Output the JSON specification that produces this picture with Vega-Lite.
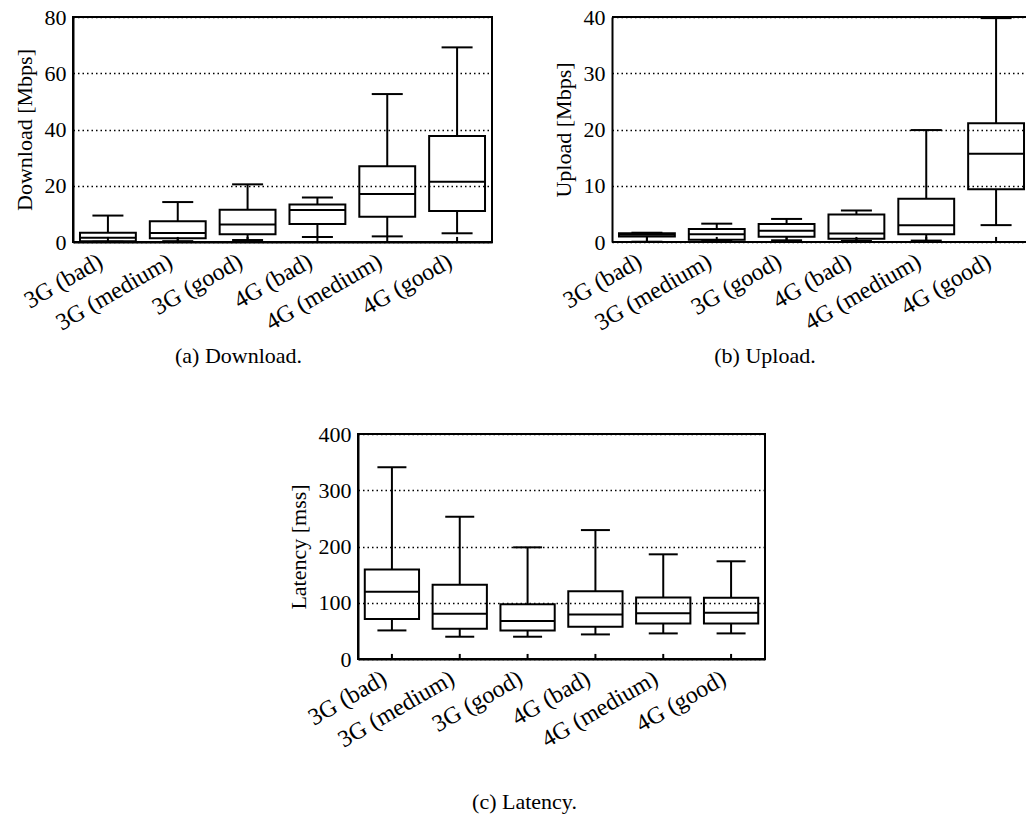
{
  "$schema": "https://vega.github.io/schema/vega-lite/v6.json",
  "background": "white",
  "padding": {"left": 12, "top": 5, "right": 0, "bottom": 0},
  "datasets": {
    "dl": [
      {"cat": "3G (bad)", "min": 0.1, "q1": 0.3, "median": 1.5, "q3": 3.3, "max": 9.4},
      {"cat": "3G (medium)", "min": 0.3, "q1": 1.3, "median": 3.2, "q3": 7.4, "max": 14.2},
      {"cat": "3G (good)", "min": 0.7, "q1": 2.8, "median": 6.2, "q3": 11.5, "max": 20.5},
      {"cat": "4G (bad)", "min": 1.8, "q1": 6.4, "median": 11.4, "q3": 13.3, "max": 15.8},
      {"cat": "4G (medium)", "min": 2.0, "q1": 9.0, "median": 17.1, "q3": 26.9, "max": 52.6},
      {"cat": "4G (good)", "min": 3.1, "q1": 11.0, "median": 21.4, "q3": 37.7, "max": 69.2}
    ],
    "ul": [
      {"cat": "3G (bad)", "min": 0.05, "q1": 1.0, "median": 1.3, "q3": 1.55, "max": 1.65},
      {"cat": "3G (medium)", "min": 0.2, "q1": 0.4, "median": 1.4, "q3": 2.3, "max": 3.26},
      {"cat": "3G (good)", "min": 0.3, "q1": 0.95, "median": 2.0, "q3": 3.2, "max": 4.1},
      {"cat": "4G (bad)", "min": 0.2, "q1": 0.6, "median": 1.5, "q3": 4.9, "max": 5.6},
      {"cat": "4G (medium)", "min": 0.25, "q1": 1.4, "median": 3.0, "q3": 7.7, "max": 19.9},
      {"cat": "4G (good)", "min": 3.0, "q1": 9.4, "median": 15.7, "q3": 21.1, "max": 39.8}
    ],
    "lat": [
      {"cat": "3G (bad)", "min": 50.8, "q1": 70.9, "median": 119.4, "q3": 158.9, "max": 340.9},
      {"cat": "3G (medium)", "min": 39.6, "q1": 53.8, "median": 80.4, "q3": 131.8, "max": 252.9},
      {"cat": "3G (good)", "min": 39.6, "q1": 50.8, "median": 67.4, "q3": 97.5, "max": 198.5},
      {"cat": "4G (bad)", "min": 43.7, "q1": 57.3, "median": 79.2, "q3": 120.5, "max": 229.2},
      {"cat": "4G (medium)", "min": 45.5, "q1": 63.2, "median": 81.5, "q3": 109.3, "max": 186.1},
      {"cat": "4G (good)", "min": 45.5, "q1": 63.2, "median": 82.1, "q3": 108.7, "max": 173.7}
    ]
  },
  "config": {
    "font": "Liberation Serif",
    "view": {"stroke": "black", "strokeWidth": 2},
    "axis": {
      "labelFontSize": 22, "titleFontSize": 22, "titleFontWeight": "normal",
      "labelColor": "black", "titleColor": "black",
      "domainColor": "black", "domainWidth": 2,
      "tickColor": "black", "tickWidth": 2,
      "gridColor": "black", "gridDash": [1.5, 3], "gridWidth": 1.5, "gridOpacity": 1
    },
    "axisX": {"grid": false, "labelAngle": -30, "ticks": false, "labelFontSize": 24, "labelPadding": 7, "labelOffset": -13, "title": null},
    "axisY": {"ticks": false, "labelPadding": 7, "titlePadding": 8, "grid": true},
    "title": {"orient": "bottom", "fontSize": 22, "fontWeight": "normal", "color": "black", "offset": 11, "anchor": "middle"},
    "tick": {"color": "black", "opacity": 1},
    "rule": {"color": "black"}
  },
  "spacing": 54,
  "vconcat": [
    {
      "spacing": 59,
      "hconcat": [
        {
          "width": 419, "height": 225,
          "data": {"name": "dl"},
          "title": {"text": "(a) Download.", "dx": -44},
          "encoding": {"x": {"field": "cat", "type": "nominal", "sort": null, "title": null, "scale": {"paddingInner": 0, "paddingOuter": 0}}},
          "layer": [
            {"mark": {"type": "rule", "strokeWidth": 2}, "encoding": {"y": {"field": "min", "type": "quantitative", "scale": {"domain": [0, 80], "nice": false}, "axis": {"values": [0, 20, 40, 60, 80], "title": "Download [Mbps]"}}, "y2": {"field": "q1"}}},
            {"mark": {"type": "rule", "strokeWidth": 2}, "encoding": {"y": {"field": "q3", "type": "quantitative"}, "y2": {"field": "max"}}},
            {"mark": {"type": "bar", "filled": false, "color": "black", "strokeWidth": 2, "width": {"band": 0.8}}, "encoding": {"y": {"field": "q1", "type": "quantitative"}, "y2": {"field": "q3"}}},
            {"mark": {"type": "tick", "size": 56, "thickness": 2}, "encoding": {"y": {"field": "median", "type": "quantitative"}}},
            {"mark": {"type": "tick", "size": 31, "thickness": 2}, "encoding": {"y": {"field": "min", "type": "quantitative"}}},
            {"mark": {"type": "tick", "size": 31, "thickness": 2}, "encoding": {"y": {"field": "max", "type": "quantitative"}}},
            {"mark": {"type": "rule", "strokeWidth": 2}, "encoding": {"y": {"datum": 0}, "y2": {"datum": 1.8}}}
          ]
        },
        {
          "width": 414, "height": 225,
          "view": {"stroke": null},
          "data": {"name": "ul"},
          "title": {"text": "(b) Upload.", "dx": -54},
          "layer": [
            {
              "encoding": {"x": {"field": "cat", "type": "nominal", "sort": null, "title": null, "scale": {"paddingInner": 0, "paddingOuter": 0, "range": [0, 419]}, "axis": {"domain": false}}},
              "layer": [
                {"mark": {"type": "rule", "strokeWidth": 2}, "encoding": {"y": {"field": "min", "type": "quantitative", "scale": {"domain": [0, 40], "nice": false}, "axis": {"values": [0, 10, 20, 30, 40], "title": "Upload [Mbps]"}}, "y2": {"field": "q1"}}},
                {"mark": {"type": "rule", "strokeWidth": 2}, "encoding": {"y": {"field": "q3", "type": "quantitative"}, "y2": {"field": "max"}}},
                {"mark": {"type": "bar", "filled": false, "color": "black", "strokeWidth": 2, "width": {"band": 0.8}}, "encoding": {"y": {"field": "q1", "type": "quantitative"}, "y2": {"field": "q3"}}},
                {"mark": {"type": "tick", "size": 56, "thickness": 2}, "encoding": {"y": {"field": "median", "type": "quantitative"}}},
                {"mark": {"type": "tick", "size": 31, "thickness": 2}, "encoding": {"y": {"field": "min", "type": "quantitative"}}},
                {"mark": {"type": "tick", "size": 31, "thickness": 2}, "encoding": {"y": {"field": "max", "type": "quantitative"}}},
                {"mark": {"type": "rule", "strokeWidth": 2}, "encoding": {"y": {"datum": 0}, "y2": {"datum": 0.9}}}
              ]
            },
            {"mark": {"type": "rule", "strokeWidth": 2}, "encoding": {"y": {"datum": 0}}},
            {"mark": {"type": "rule", "strokeWidth": 2}, "encoding": {"y": {"datum": 40}}}
          ]
        }
      ]
    },
    {
      "spacing": 0,
      "hconcat": [
        {
          "width": 213, "height": 10,
          "view": {"stroke": null},
          "data": {"values": [{"k": 1}]},
          "mark": {"type": "point", "opacity": 0},
          "encoding": {}
        },
        {
          "width": 407, "height": 225,
          "data": {"name": "lat"},
          "title": {"text": "(c) Latency.", "dx": -37, "offset": 40},
          "encoding": {"x": {"field": "cat", "type": "nominal", "sort": null, "title": null, "scale": {"paddingInner": 0, "paddingOuter": 0}}},
          "layer": [
            {"mark": {"type": "rule", "strokeWidth": 2}, "encoding": {"y": {"field": "min", "type": "quantitative", "scale": {"domain": [0, 400], "nice": false}, "axis": {"values": [0, 100, 200, 300, 400], "title": "Latency [mss]"}}, "y2": {"field": "q1"}}},
            {"mark": {"type": "rule", "strokeWidth": 2}, "encoding": {"y": {"field": "q3", "type": "quantitative"}, "y2": {"field": "max"}}},
            {"mark": {"type": "bar", "filled": false, "color": "black", "strokeWidth": 2, "width": {"band": 0.8}}, "encoding": {"y": {"field": "q1", "type": "quantitative"}, "y2": {"field": "q3"}}},
            {"mark": {"type": "tick", "size": 54, "thickness": 2}, "encoding": {"y": {"field": "median", "type": "quantitative"}}},
            {"mark": {"type": "tick", "size": 29, "thickness": 2}, "encoding": {"y": {"field": "min", "type": "quantitative"}}},
            {"mark": {"type": "tick", "size": 29, "thickness": 2}, "encoding": {"y": {"field": "max", "type": "quantitative"}}},
            {"mark": {"type": "rule", "strokeWidth": 2}, "encoding": {"y": {"datum": 0}, "y2": {"datum": 9}}}
          ]
        }
      ]
    }
  ]
}
